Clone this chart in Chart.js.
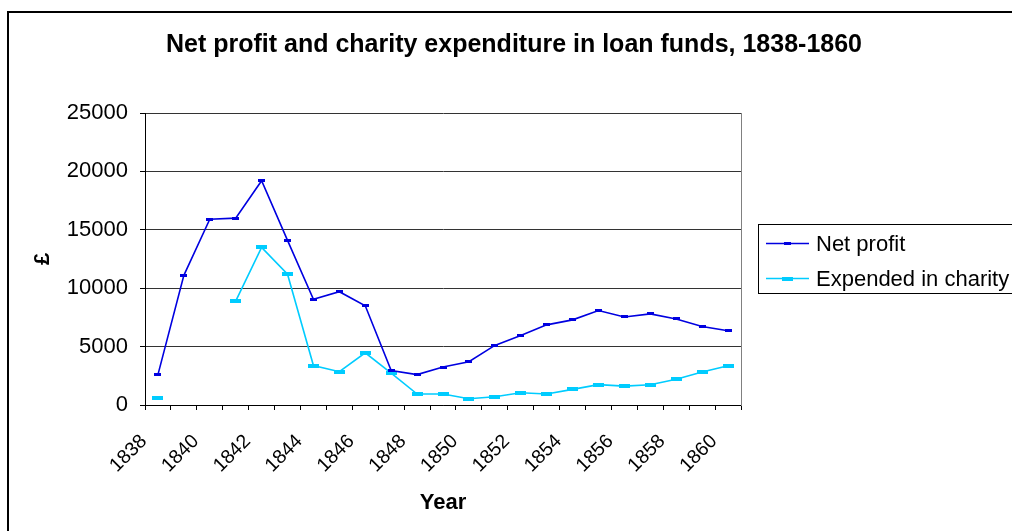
<!DOCTYPE html>
<html>
<head>
<meta charset="utf-8">
<script src="https://cdn.jsdelivr.net/npm/chart.js@4"></script>
<style>
  html, body { margin: 0; padding: 0; background: #fff; }
  canvas { display: block; }
</style>
</head>
<body>
<canvas id="chart" width="1012" height="531"></canvas>
<script>
// Years on the category axis
const years = ['1838', '1839', '1840', '1841', '1842', '1843', '1844', '1845', '1846', '1847', '1848', '1849',
    '1850', '1851', '1852', '1853', '1854', '1855', '1856', '1857', '1858', '1859', '1860'];

// Values (pounds)
const netProfit = [2600, 11100, 15900, 16000, 19200, 14100, 9050, 9700, 8500, 2950, 2600, 3250,
    3700, 5100, 5950, 6860, 7290, 8090, 7540, 7800, 7370, 6720, 6350];
const expendedCharity = [600, null, null, 8900, 13500, 11200, 3380, 2850, 4470, 2730, 940, 940,
    540, 710, 1050, 940, 1340, 1740, 1620, 1740, 2200, 2820, 3360];

const seriesNames = ['Net profit', 'Expended in charity'];
const yTicks = [0, 5000, 10000, 15000, 20000, 25000];

const FONT = 'Liberation Sans, Arial, sans-serif';
const BLUE = '#0000E0';
const CYAN = '#00CCFF';

// Excel style dash markers
function dashMarker(w, h, color) {
    const c = document.createElement('canvas');
    c.width = w;
    c.height = h;
    const g = c.getContext('2d');
    g.fillStyle = color;
    g.fillRect(0, 0, w, h);
    return c;
}
const netMarker = dashMarker(7, 3, BLUE);
const expMarker = dashMarker(11, 4, CYAN);

// Chart frame and boxed legend
const framePlugin = {
    id: 'frame',
    beforeDraw(chart) {
        const ctx = chart.ctx;
        ctx.save();
        ctx.fillStyle = '#fff';
        ctx.fillRect(0, 0, chart.width, chart.height);
        ctx.restore();
    },
    afterDraw(chart) {
        const ctx = chart.ctx;
        ctx.save();
        // outer frame
        ctx.strokeStyle = '#000';
        ctx.lineWidth = 2;
        ctx.strokeRect(8, 12, chart.width + 20, chart.height + 20);

        // legend box
        const lx = 758.5, ly = 224.5;
        ctx.lineWidth = 1;
        ctx.strokeStyle = '#000';
        ctx.strokeRect(lx, ly, 300, 69);
        const items = [
            { name: seriesNames[0], color: BLUE, marker: netMarker, y: 243.5 },
            { name: seriesNames[1], color: CYAN, marker: expMarker, y: 278.5 }
        ];
        items.forEach(it => {
            ctx.strokeStyle = it.color;
            ctx.lineWidth = 1.5;
            ctx.beginPath();
            ctx.moveTo(766, it.y);
            ctx.lineTo(809, it.y);
            ctx.stroke();
            ctx.drawImage(it.marker, 787.5 - it.marker.width / 2, it.y - it.marker.height / 2);
            ctx.fillStyle = '#000';
            ctx.font = '22px ' + FONT;
            ctx.textAlign = 'left';
            ctx.textBaseline = 'middle';
            ctx.fillText(it.name, 816, it.y + 1);
        });
        ctx.restore();
    }
};

const ctx = document.getElementById('chart').getContext('2d');
new Chart(ctx, {
    type: 'line',
    data: {
        labels: years,
        datasets: [{
            label: seriesNames[0],
            data: netProfit,
            borderColor: BLUE,
            backgroundColor: BLUE,
            borderWidth: 1.6,
            pointStyle: netMarker,
            pointRadius: 3,
            tension: 0,
            spanGaps: false
        }, {
            label: seriesNames[1],
            data: expendedCharity,
            borderColor: CYAN,
            backgroundColor: CYAN,
            borderWidth: 1.6,
            pointStyle: expMarker,
            pointRadius: 3,
            tension: 0,
            spanGaps: false
        }]
    },
    options: {
        responsive: false,
        animation: false,
        events: [],
        layout: { padding: { left: 16, right: 0, top: 0, bottom: 0 } },
        plugins: {
            legend: { display: false },
            tooltip: { enabled: false },
            title: {
                display: true,
                text: 'Net profit and charity expenditure in loan funds, 1838-1860',
                color: '#000',
                font: { family: FONT, size: 25, weight: 'bold' },
                padding: { top: 30, bottom: 53 }
            }
        },
        scales: {
            x: {
                type: 'category',
                offset: true,
                grid: {
                    offset: true,
                    drawOnChartArea: false,
                    drawTicks: true,
                    tickLength: 5,
                    color: '#000'
                },
                border: { color: '#000', width: 1 },
                ticks: {
                    autoSkip: false,
                    maxRotation: 45,
                    minRotation: 45,
                    padding: 20,
                    labelOffset: -14,
                    color: '#000',
                    font: { family: FONT, size: 19.5 },
                    callback: (val, idx) => (idx % 2 === 0 ? years[idx] : '')
                },
                title: {
                    display: true,
                    text: 'Year',
                    color: '#000',
                    font: { family: FONT, size: 22, weight: 'bold' },
                    padding: { top: 0, bottom: 15 }
                },
                afterFit: s => { s.height = 126; }
            },
            y: {
                min: yTicks[0],
                max: yTicks[yTicks.length - 1],
                afterBuildTicks: s => { s.ticks = yTicks.map(v => ({ value: v })); },
                grid: {
                    color: '#333',
                    tickColor: '#000',
                    tickLength: 5,
                    drawTicks: true
                },
                border: { color: '#000', width: 1 },
                ticks: {
                    padding: 12,
                    color: '#000',
                    font: { family: FONT, size: 22 },
                    callback: v => String(v)
                },
                title: {
                    display: true,
                    text: '£',
                    color: '#000',
                    font: { family: FONT, size: 22, weight: 'bold' },
                    padding: { top: 14, bottom: 0 }
                },
                afterFit: s => { s.width = 129; }
            },
            yRight: {
                position: 'right',
                display: true,
                min: 0,
                max: 1,
                grid: { drawOnChartArea: false, drawTicks: false },
                border: { color: '#808080', width: 1 },
                ticks: { display: false },
                afterFit: s => { s.width = 271; }
            }
        }
    },
    plugins: [framePlugin]
});
</script>
</body>
</html>
